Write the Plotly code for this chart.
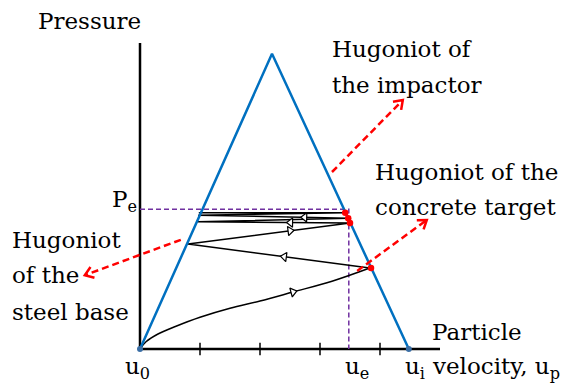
import math
import plotly.graph_objects as go

# the page puts the figure 8 px in from the top-left corner of the window
PAGE_OFF = 8
W, H = 571 - PAGE_OFF, 390 - PAGE_OFF
# 60 px per unit on both axes; origin (u0, 0) sits at window pixel (140, 349)
SCALE = 60
OX, OY = 140, 349


def px2x(p):
    return (p - OX) / SCALE


def py2y(p):
    return (OY - p) / SCALE


# Hugoniot of the impactor (triangle)
hug_x = [0, 2.2, 4.48]
hug_y = [0, 4.92, 0]

# first shock path (curved)
curve_x = [0, 0.1, 0.3, 0.6, 1.0, 1.5, 2.0, 2.55, 3.2, 3.83]
curve_y = [0, 0.12, 0.25, 0.38, 0.53, 0.68, 0.8, 0.95, 1.13, 1.35]

# reverberation between steel base and concrete target
zig_x = [3.83, 0.8, 3.5, 0.96, 3.47, 0.97, 3.42, 0.98]
zig_y = [1.35, 1.75, 2.1, 2.12, 2.18, 2.23, 2.27, 2.27]

# states on the target Hugoniot
dot_x = [3.85, 3.5, 3.47, 3.42]
dot_y = [1.35, 2.1, 2.18, 2.27]

# equilibrium state
u_e = 3.48
p_e = 2.33

# arrows along the zigzag: segment index and fraction along it
arrow_seg = [0, 1, 2, 4]
arrow_t = [0.47, 0.63, 0.39, 0.29]
curve_arrow_i = 7

# red dashed pointers (start -> end)
ptr_x0 = [3.2, 3.62, 0.68]
ptr_y0 = [2.95, 1.3, 1.82]
ptr_x1 = [4.38, 4.78, -0.92]
ptr_y1 = [4.15, 2.15, 1.23]

xticks = [1, 2, 3, 4]

BLUE = "#0070C0"
RED = "#FF0000"
PURPLE = "#7030A0"
FONT = "DejaVu Serif"
FS = 23

fig = go.Figure()

# axes
fig.add_trace(go.Scatter(x=[0, 0, 5], y=[5.1, 0, 0], mode="lines",
                         line=dict(color="black", width=2.5)))
fig.add_trace(go.Scatter(x=xticks, y=[0] * len(xticks), mode="markers",
                         marker=dict(symbol="line-ns", size=9,
                                     line=dict(color="black", width=1.5))))

# equilibrium guide lines
fig.add_trace(go.Scatter(x=[0, u_e, u_e], y=[p_e, p_e, 0], mode="lines",
                         line=dict(color=PURPLE, width=1.5, dash="5px,3px")))

# wave path
fig.add_trace(go.Scatter(x=curve_x, y=curve_y, mode="lines",
                         line=dict(color="black", width=1.5, shape="spline")))
fig.add_trace(go.Scatter(x=zig_x, y=zig_y, mode="lines",
                         line=dict(color="black", width=1.5)))

# open triangle arrowheads on the path
ax, ay, ang = [], [], []
for s, t in zip(arrow_seg, arrow_t):
    dx = zig_x[s + 1] - zig_x[s]
    dy = zig_y[s + 1] - zig_y[s]
    ax.append(zig_x[s] + t * dx)
    ay.append(zig_y[s] + t * dy)
    ang.append(90 - math.degrees(math.atan2(dy, dx)))
i = curve_arrow_i
dx = curve_x[i + 1] - curve_x[i - 1]
dy = curve_y[i + 1] - curve_y[i - 1]
ax.append(curve_x[i])
ay.append(curve_y[i])
ang.append(90 - math.degrees(math.atan2(dy, dx)))
fig.add_trace(go.Scatter(x=ax, y=ay, mode="markers",
                         marker=dict(symbol="triangle-up", size=8, angle=ang,
                                     color="white",
                                     line=dict(color="black", width=1.2))))

# Hugoniot of the impactor
fig.add_trace(go.Scatter(x=hug_x, y=hug_y, mode="lines",
                         line=dict(color=BLUE, width=2.5)))
fig.add_trace(go.Scatter(x=[hug_x[0], hug_x[2]], y=[0, 0], mode="markers",
                         marker=dict(color="#3A6EA5", size=6)))

# states
fig.add_trace(go.Scatter(x=dot_x, y=dot_y, mode="markers",
                         marker=dict(color=RED, size=6.5)))

# red dashed pointers with open V heads
hl = 10 / SCALE
for x0, y0, x1, y1 in zip(ptr_x0, ptr_y0, ptr_x1, ptr_y1):
    fig.add_trace(go.Scatter(x=[x0, x1], y=[y0, y1], mode="lines",
                             line=dict(color=RED, width=2.5, dash="7px,4px")))
    a = math.atan2(y1 - y0, x1 - x0)
    b1 = a + math.pi + math.radians(35)
    b2 = a + math.pi - math.radians(35)
    fig.add_trace(go.Scatter(
        x=[x1 + hl * math.cos(b1), x1, x1 + hl * math.cos(b2)],
        y=[y1 + hl * math.sin(b1), y1, y1 + hl * math.sin(b2)],
        mode="lines", line=dict(color=RED, width=2.5)))

# labels, one line each: (text, left px, baseline px) in window pixels
labels = [
    ("Pressure", 36, 29),
    ("Hugoniot of", 330, 57),
    ("the impactor", 330, 93),
    ("Hugoniot of the", 373, 180),
    ("concrete target", 373, 215),
    ("Hugoniot", 10, 248),
    ("of the", 10, 283),
    ("steel base", 10, 320),
    ("Particle", 430, 340),
    ("velocity, u<sub>p</sub>", 430, 374),
    ("u<sub>0</sub>", 123, 374),
    ("u<sub>e</sub>", 343, 374),
    ("u<sub>i</sub>", 403, 374),
    ("P<sub>e</sub>", 110, 207),
]
for txt, lx, by in labels:
    top = by - (0.97 * FS + 1)
    fig.add_annotation(x=(lx - PAGE_OFF) / W,
                       y=1 - (top - PAGE_OFF) / H,
                       xref="paper", yref="paper",
                       text=txt, showarrow=False,
                       xanchor="left", yanchor="top", align="left",
                       font=dict(family=FONT, size=FS, color="black"))

fig.update_layout(
    width=W, height=H,
    margin=dict(l=0, r=0, t=0, b=0),
    paper_bgcolor="white", plot_bgcolor="white",
    showlegend=False,
    xaxis=dict(range=[px2x(PAGE_OFF), px2x(571)], visible=False),
    yaxis=dict(range=[py2y(390), py2y(PAGE_OFF)], visible=False),
)

fig.write_html("out.html")
